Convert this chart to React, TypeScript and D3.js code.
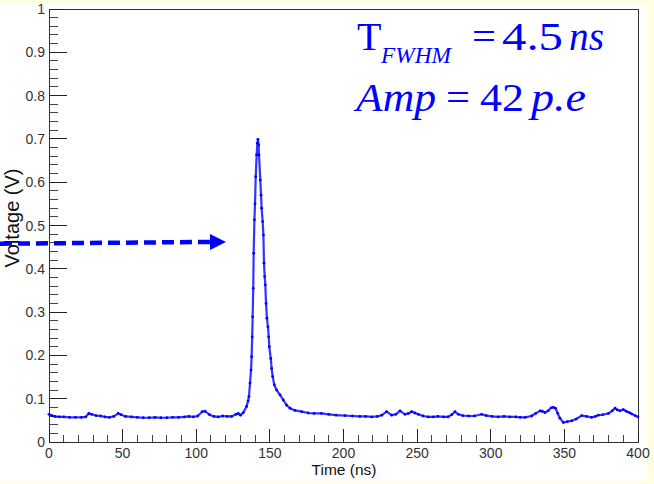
import React from "react";
import * as d3 from "d3";

const times: number[] = [
  0, 2, 4, 7, 10, 14, 18, 22, 25, 27, 29, 32, 35, 38, 41, 44, 47, 49, 52, 56, 60, 64, 68, 72, 76, 80, 84, 88, 92, 95, 98, 101, 104, 106, 109, 112, 115, 118, 121, 124, 127, 128.5, 130, 132,
  134.2, 135.2, 135.8, 136.5, 137.2, 137.6, 138.0, 138.3, 138.7, 139.0, 139.5, 139.9, 140.4, 141.0, 141.5, 141.9, 142.4, 142.6, 143.5, 144.0, 144.4, 145.1, 145.6, 146.0, 146.5, 146.9, 147.4, 148.0, 148.7, 149.2, 149.6, 150.6, 151.2, 151.9, 153.0, 154.6, 156.9, 159.1, 161.4, 163.7,
  167, 171.6, 176, 180, 185, 190, 195, 201, 206, 211, 215, 219, 223, 226, 229.3, 232.7, 235.5, 238.4, 241.8, 244, 246.3, 248.5, 250.8, 254, 257.6, 261, 264, 268, 271, 273.5, 275.7, 278, 281, 285, 289, 293.8, 297, 301, 305, 309, 313, 317, 320, 323.3, 327.8, 330.5, 333.5, 335, 336.8, 339, 341, 342.5, 344, 345.5, 347, 349.3, 352, 355, 358, 361.8, 365, 368.5, 371, 373, 376, 380, 382.5, 384.4, 386, 387.8, 390, 392, 394, 395.7, 398, 400,
];

const voltages: number[] = [
  0.064, 0.061, 0.059, 0.058, 0.058, 0.057, 0.057, 0.057, 0.058, 0.066, 0.064, 0.061, 0.060, 0.058, 0.057, 0.059, 0.066, 0.063, 0.059, 0.058, 0.057, 0.056, 0.056, 0.057, 0.056, 0.056, 0.057, 0.057, 0.058, 0.059, 0.058, 0.060, 0.070, 0.071, 0.063, 0.059, 0.058, 0.060, 0.059, 0.059, 0.064, 0.066, 0.062, 0.068,
  0.082, 0.095, 0.105, 0.136, 0.166, 0.197, 0.243, 0.289, 0.355, 0.436, 0.513, 0.55, 0.613, 0.663, 0.690, 0.699, 0.686, 0.663, 0.605, 0.570, 0.540, 0.509, 0.478, 0.413, 0.382, 0.363, 0.320, 0.286, 0.266, 0.243, 0.220, 0.193, 0.170, 0.151, 0.132, 0.120, 0.109, 0.097, 0.085, 0.078,
  0.073, 0.070, 0.067, 0.066, 0.066, 0.064, 0.062, 0.061, 0.060, 0.059, 0.059, 0.058, 0.059, 0.062, 0.070, 0.062, 0.064, 0.072, 0.064, 0.066, 0.070, 0.067, 0.064, 0.060, 0.058, 0.058, 0.059, 0.058, 0.058, 0.063, 0.070, 0.064, 0.061, 0.060, 0.060, 0.064, 0.061, 0.059, 0.058, 0.059, 0.058, 0.058, 0.057, 0.057, 0.060, 0.066, 0.072, 0.071, 0.068, 0.072, 0.079, 0.080, 0.078, 0.066, 0.055, 0.045, 0.047, 0.049, 0.053, 0.061, 0.059, 0.057, 0.059, 0.062, 0.063, 0.066, 0.072, 0.078, 0.074, 0.072, 0.075, 0.071, 0.068, 0.065, 0.061, 0.058,
];

const xTicks: number[] = [0, 50, 100, 150, 200, 250, 300, 350, 400];
const xTickLabels: string[] = ["0", "50", "100", "150", "200", "250", "300", "350", "400"];
const yTicks: number[] = [0, 0.1, 0.2, 0.3, 0.4, 0.5, 0.6, 0.7, 0.8, 0.9, 1];
const yTickLabels: string[] = ["0", "0.1", "0.2", "0.3", "0.4", "0.5", "0.6", "0.7", "0.8", "0.9", "1"];

// arrow annotation, in data units (time, voltage)
const arrowFrom: [number, number] = [-33.3, 0.458];
const arrowTo: [number, number] = [120.2, 0.462];

const W = 654;
const H = 484;
const BLUE = "#0000ff";

export default function App() {
  const x = d3.scaleLinear().domain([0, 400]).range([49, 638]);
  const y = d3.scaleLinear().domain([0, 1]).range([442, 9]);

  const pts = times.map((t, i) => [t, voltages[i]] as [number, number]);
  const line = d3
    .line<[number, number]>()
    .x((d) => x(d[0]))
    .y((d) => y(d[1]));

  const xMinor = d3.range(0, 401, 10).filter((v) => v % 50 !== 0);
  const yMinor = d3.range(0, 51, 1).filter((k) => k % 5 !== 0).map((k) => k / 50);

  const ax0 = x(arrowFrom[0]);
  const ay0 = y(arrowFrom[1]);
  const ax1 = x(arrowTo[0]);
  const ay1 = y(arrowTo[1]);
  const headLen = 16;
  const headHalf = 8;

  const font = "'Liberation Sans', Arial, Helvetica, sans-serif";
  const serif = "'Liberation Serif', 'Times New Roman', serif";

  return (
    <svg
      width={W}
      height={H}
      style={{ position: "absolute", left: 0, top: 0 }}
      xmlns="http://www.w3.org/2000/svg"
    >
      <rect x={0} y={0} width={W} height={H} fill="#ffffe0" />
      <rect x={0} y={4} width={647} height={477} fill="#ffffff" />

      {/* frame */}
      <rect
        x={x(0)}
        y={y(1)}
        width={x(400) - x(0)}
        height={y(0) - y(1)}
        fill="none"
        stroke="#333"
        strokeWidth={1}
        shapeRendering="crispEdges"
      />

      {/* x ticks */}
      {xTicks.map((t) => (
        <line key={"xm" + t} x1={x(t)} x2={x(t)} y1={y(0)} y2={y(0) - 13} stroke="#222" shapeRendering="crispEdges" />
      ))}
      {xMinor.map((t) => (
        <line key={"xn" + t} x1={x(t)} x2={x(t)} y1={y(0)} y2={y(0) - 7} stroke="#444" shapeRendering="crispEdges" />
      ))}
      {xTicks.map((t, i) => (
        <text key={"xl" + t} x={x(t)} y={458} textAnchor="middle" fontFamily={font} fontSize={14} fill="#333">
          {xTickLabels[i]}
        </text>
      ))}

      {/* y ticks */}
      {yTicks.map((v) => (
        <line key={"ym" + v} x1={x(0)} x2={x(0) + 18} y1={y(v)} y2={y(v)} stroke="#222" shapeRendering="crispEdges" />
      ))}
      {yMinor.map((v) => (
        <line key={"yn" + v} x1={x(0)} x2={x(0) + 9} y1={y(v)} y2={y(v)} stroke="#444" shapeRendering="crispEdges" />
      ))}
      {yTicks.map((v, i) => (
        <text key={"yl" + v} x={45} y={y(v) + 5} textAnchor="end" fontFamily={font} fontSize={14} fill="#333">
          {yTickLabels[i]}
        </text>
      ))}

      {/* axis titles */}
      <text x={344} y={475} textAnchor="middle" fontFamily={font} fontSize={15.5} fill="#111">
        Time (ns)
      </text>
      <text
        transform={`translate(19, 218) rotate(-90)`}
        textAnchor="middle"
        fontFamily={font}
        fontSize={20}
        fill="#111"
      >
        Voltage (V)
      </text>

      {/* data */}
      <path d={line(pts) || ""} fill="none" stroke={BLUE} strokeOpacity={0.8} strokeWidth={2.2} strokeLinejoin="round" />
      {pts.map((p, i) => (
        <circle key={"p" + i} cx={x(p[0])} cy={y(p[1])} r={1.4} fill={BLUE} />
      ))}

      {/* arrow */}
      <line
        x1={ax0}
        y1={ay0}
        x2={ax1 - headLen + 2}
        y2={ay1}
        stroke={BLUE}
        strokeWidth={4.5}
        strokeDasharray="12 6"
      />
      <polygon
        points={`${ax1 - headLen},${ay1 - headHalf} ${ax1},${ay1} ${ax1 - headLen},${ay1 + headHalf}`}
        fill={BLUE}
      />

      {/* annotation text */}
      <g fill={BLUE} fontFamily={serif}>
        <text x={357} y={50} fontSize={40}>T</text>
        <text x={381} y={63} fontSize={23} fontStyle="italic" textLength={70} lengthAdjust="spacingAndGlyphs">FWHM</text>
        <text x={472} y={50} fontSize={40} textLength={24} lengthAdjust="spacingAndGlyphs">=</text>
        <text x={502} y={50} fontSize={40} textLength={61} lengthAdjust="spacingAndGlyphs">4.5</text>
        <text x={569} y={50} fontSize={40} fontStyle="italic" textLength={35} lengthAdjust="spacingAndGlyphs">ns</text>

        <text x={356} y={111} fontSize={40} fontStyle="italic" textLength={80} lengthAdjust="spacingAndGlyphs">Amp</text>
        <text x={446} y={111} fontSize={40} textLength={24} lengthAdjust="spacingAndGlyphs">=</text>
        <text x={480} y={111} fontSize={40} textLength={44} lengthAdjust="spacingAndGlyphs">42</text>
        <text x={531} y={111} fontSize={40} fontStyle="italic" textLength={55} lengthAdjust="spacingAndGlyphs">p.e</text>
      </g>
    </svg>
  );
}
